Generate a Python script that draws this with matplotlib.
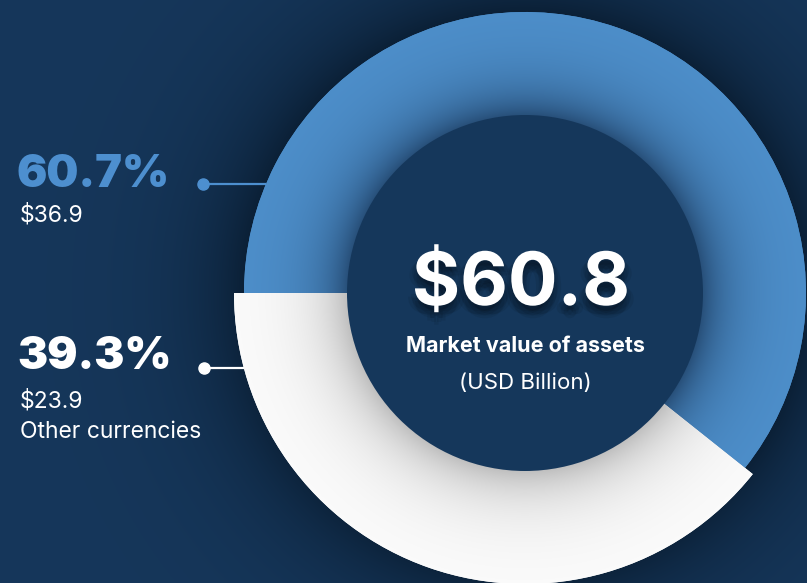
import numpy as np
import matplotlib
matplotlib.use('Agg')
import matplotlib.pyplot as plt
from matplotlib.patches import Circle
import matplotlib.patheffects as pe

# ---- data ----
categories = ['USD', 'Other currencies']
values = [36.9, 23.9]            # USD billion
shares = ['60.7%', '39.3%']
amounts = ['$36.9', '$23.9']
total_label = '$60.8'
center_title = 'Market value of assets'
center_unit = '(USD Billion)'
other_label = 'Other currencies'

# ---- style ----
W, H = 807, 583
BG = np.array([22, 55, 91]) / 255
BG_DARK = np.array([9, 28, 48]) / 255
INNER = '#15375b'
BLUE = np.array([78, 144, 204]) / 255
BLUE_DARK = np.array([40, 80, 122]) / 255
WHITE = '#ffffff'
BLUE_TXT = '#4d8fcf'
FONT = 'Inter'

cx, cy = 525, 290
R_blue, R_white, R_in = 281, 291, 178

fig = plt.figure(figsize=(W / 100, H / 100), dpi=100)
ax = fig.add_axes([0, 0, 1, 1])

yy, xx = np.mgrid[0:H, 0:W] + 0.5
d = np.hypot(xx - cx, yy - cy)

# background with soft shadow around the ring
f = 0.85 * np.exp(-np.clip(d - R_blue, 0, None) / 55.0)
f[d < R_blue] = 0.85
bg = BG[None, None, :] * (1 - f[..., None]) + BG_DARK[None, None, :] * f[..., None]
ax.imshow(bg, origin='lower', extent=(0, W, 0, H), zorder=0, interpolation='bilinear')

# ---- donut ----
wedges, _ = ax.pie(values, radius=R_blue, center=(cx, cy), startangle=180,
                   counterclock=False, colors=[BLUE, WHITE],
                   wedgeprops=dict(width=R_blue - R_in + 4, linewidth=0))
wedges[1].set_radius(R_white)
wedges[1].set_width(R_white - R_in + 4)
for w in wedges:
    w.set_zorder(1)

t = np.clip((d - R_in) / (R_blue - R_in), 0, 1)
s = np.exp(-t / 0.30)
blue_img = BLUE[None, None, :] * (1 - s[..., None]) + BLUE_DARK[None, None, :] * s[..., None]
im1 = ax.imshow(np.clip(blue_img, 0, 1), origin='lower', extent=(0, W, 0, H),
                zorder=2, interpolation='bilinear')
im1.set_clip_path(wedges[0])

tw = np.clip((d - R_in) / (R_white - R_in), 0, 1)
g = 0.99 - 0.24 * np.exp(-tw / 0.30)
white_img = np.dstack([g, g, g])
im2 = ax.imshow(np.clip(white_img, 0, 1), origin='lower', extent=(0, W, 0, H),
                zorder=3, interpolation='bilinear')
im2.set_clip_path(wedges[1])

ax.add_patch(Circle((cx, cy), R_in, facecolor=INNER, edgecolor='none', zorder=4))

ax.set_xlim(0, W)
ax.set_ylim(0, H)
ax.set_aspect('auto')
ax.axis('off')

# ---- centre text ----
soft_shadow = [pe.SimplePatchShadow(offset=(dx, dy), shadow_rgbFace='black', alpha=0.07)
               for dx, dy in [(0, -3), (3, -4), (-3, -4), (2, -7), (-2, -7), (5, -6), (-5, -6), (0, -9)]]
ax.text(cx - 4, H - 305, total_label, color='white', fontsize=53, fontweight='bold',
        family=FONT, ha='center', va='baseline', zorder=6,
        path_effects=soft_shadow + [pe.Normal()])
ax.text(cx, H - 352, center_title, color='white', fontsize=15.5, fontweight='bold',
        family=FONT, ha='center', va='baseline', zorder=6)
ax.text(cx, H - 389, center_unit, color='white', fontsize=16,
        family=FONT, ha='center', va='baseline', zorder=6)

# ---- left labels ----
ax.text(17, H - 187, shares[0], color=BLUE_TXT, fontsize=32.5, fontweight='black',
        family=FONT, ha='left', va='baseline', zorder=6)
ax.text(20, H - 222, amounts[0], color='white', fontsize=16.5,
        family=FONT, ha='left', va='baseline', zorder=6)
ax.text(17, H - 369, shares[1], color='white', fontsize=32.5, fontweight='black',
        family=FONT, ha='left', va='baseline', zorder=6)
ax.text(20, H - 408, amounts[1], color='white', fontsize=16.5,
        family=FONT, ha='left', va='baseline', zorder=6)
ax.text(20, H - 438, other_label, color='white', fontsize=16.5,
        family=FONT, ha='left', va='baseline', zorder=6)

# ---- leader lines ----
y1 = H - 184
x1_end = cx - np.sqrt(R_blue ** 2 - (y1 - cy) ** 2)
ax.plot([203, x1_end], [y1, y1], color=BLUE_TXT, lw=1.6, zorder=5, solid_capstyle='butt')
ax.plot([203], [y1], 'o', color=BLUE_TXT, ms=8, zorder=5)
y2 = H - 368
x2_end = cx - np.sqrt(R_white ** 2 - (y2 - cy) ** 2)
ax.plot([204, x2_end], [y2, y2], color='white', lw=1.6, zorder=5, solid_capstyle='butt')
ax.plot([204], [y2], 'o', color='white', ms=8, zorder=5)

fig.savefig('out.png', dpi=100, facecolor=BG)
